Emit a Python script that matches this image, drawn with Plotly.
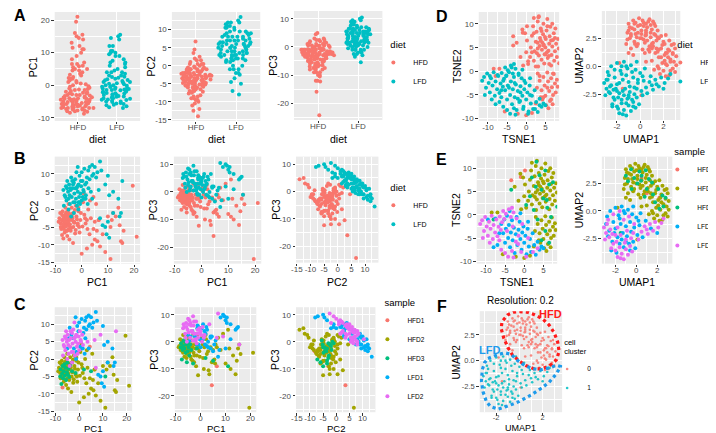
import plotly.graph_objects as go

W, H = 716, 433
FONT = "Liberation Sans, Arial, sans-serif"

# ---------------- data ----------------
# PCA rows: (PC1, PC2, PC3)     embedding rows: (TSNE1, TSNE2, UMAP1, UMAP2)

HFD1_PCA = [(-7.0, -8.2, -3.5), (4.5, 3.5, -16.0), (6.5, -3.0, -9.0)]
HFD1_EMB = [(-3.4, 7.4, 1.0, 1.6), (-0.9, 8.1, 2.2, 1.2), (0.2, 9.5, 0.5, 3.0)]

HFD2_PCA = [
    (-8.5, -2.5, -1.5), (-8.0, -4.0, -3.0), (-7.5, -1.5, 0.5), (-7.2, -3.2, -2.2), (-7.0, -5.0, -4.0),
    (-6.8, -2.0, -0.8), (-6.5, -6.5, -5.5), (-6.3, -3.8, -1.5), (-6.0, -1.0, 1.5), (-6.0, -4.5, -3.5),
    (-5.8, -2.8, -2.0), (-5.5, -7.5, -4.5), (-5.5, -0.5, 0.0), (-5.2, -3.5, -2.8), (-5.0, -5.5, -1.0),
    (-4.8, -2.2, -4.5), (-4.5, -1.5, 1.0), (-4.5, -4.2, -3.8), (-4.2, -6.0, -2.5), (-4.0, -3.0, -5.5),
    (-3.8, 0.5, -1.0), (-3.5, -2.5, -3.0), (-3.2, -5.0, -7.0), (-3.0, -1.0, 0.5), (-2.8, -3.8, -4.0),
    (-2.5, -6.8, -5.0), (-2.2, 1.0, 2.0), (-2.0, -2.0, -2.5), (-1.5, -4.5, -5.0), (-1.2, -0.5, -1.5),
    (-1.0, -5.0, -12.3), (-0.5, -3.0, -3.5), (0.0, -12.5, 5.0), (0.5, 2.0, 1.5), (1.0, -1.5, -6.0),
    (1.5, -4.0, -2.0), (2.0, -11.0, 2.5), (2.5, 0.0, -4.5), (3.0, -7.0, -3.5), (3.5, -2.5, -12.0),
    (4.0, -10.0, -2.0), (4.5, -5.5, -7.5), (5.0, -8.5, -3.0), (5.5, 1.5, -6.5), (6.0, -9.0, -1.0),
    (6.5, -3.0, -2.0), (7.0, -10.5, 1.5), (8.0, -7.0, -3.0), (9.0, -12.0, 3.0), (10.0, -2.0, -8.0),
    (11.0, -14.0, 4.5), (11.5, -3.0, -2.5), (12.0, -1.0, -10.0), (13.0, -2.0, -5.0), (14.0, 0.5, -12.0),
    (14.5, -4.5, -7.0), (15.0, -9.0, -2.5), (15.5, -9.5, -1.0), (16.0, -6.0, -4.5), (19.5, 6.7, -24.3),
    (21.0, -7.7, -4.0), (-8.8, -3.5, -2.0), (-8.2, -1.0, 1.0), (-7.8, -5.5, -1.0), (-7.3, -0.5, -3.5),
    (-7.0, -2.8, 2.5), (-6.6, -4.8, -0.5), (-6.2, 0.5, -2.5), (-5.9, -6.0, -3.0), (-5.6, -1.8, -6.0),
    (-5.3, -4.0, 2.0), (-5.0, 1.5, -0.5), (-4.7, -8.5, 0.5), (-4.3, -2.8, -1.2), (-4.0, -5.2, 0.5),
    (-3.7, -1.2, -6.5), (-3.3, -9.5, -2.0), (-3.0, -3.5, 3.0), (-2.6, -0.2, -7.5), (-2.3, -5.8, -1.0),
    (-1.8, -2.8, -9.0), (-1.3, 0.5, 2.5), (-0.8, -6.5, -2.5), (-0.3, -1.0, -5.5), (0.3, -4.8, 0.5),
    (0.8, 4.5, -1.0), (1.3, -2.5, -10.0), (2.2, -5.5, 1.0), (3.2, 2.5, -10.5), (5.8, -6.0, -8.0),
]
HFD2_EMB = [
    (0.5, 1.5, -1.2, 2.0), (1.0, 3.0, -1.1, 3.0), (1.2, 5.0, -1.0, 3.8), (1.5, 7.5, -0.9, 2.5),
    (1.8, 9.5, -0.8, 1.6), (2.0, 2.2, -0.7, 3.4), (2.2, 4.2, -0.6, 4.1), (2.5, 6.2, -0.5, 2.2),
    (2.7, 8.3, -0.4, 2.9), (3.0, 10.5, -0.3, 1.8), (3.1, 1.0, -0.2, 3.6), (3.3, 3.3, -0.1, 4.3),
    (3.5, 5.3, 0.0, 2.5), (3.6, 7.0, 0.1, 3.2), (3.8, 9.0, 0.2, 1.5), (4.0, 2.4, 0.3, 3.9),
    (4.1, 4.5, 0.4, 2.1), (4.2, 6.0, 0.5, 2.8), (4.4, 7.8, 0.6, 3.5), (4.5, 10.0, 0.7, 4.0),
    (4.7, 1.6, 0.8, 1.8), (4.8, 3.6, 0.9, 2.6), (5.0, 5.0, 1.0, 3.3), (5.1, 6.8, 1.1, 2.1),
    (5.3, 8.6, 1.2, 3.8), (5.5, 11.0, 1.3, 2.8), (5.6, 2.8, 1.4, 1.6), (5.8, 4.3, 1.5, 3.2),
    (6.0, 5.8, -1.0, 1.2), (6.1, 7.4, -0.6, 1.0), (6.3, 9.4, 0.2, 4.1), (6.5, 1.2, -0.3, 2.6),
    (6.6, 3.4, 0.6, 2.3), (6.8, 5.2, 0.0, 3.7), (7.0, 6.6, -0.8, 2.9), (7.2, 8.0, 1.1, 4.0),
    (7.3, 2.2, 0.4, 1.2), (7.5, 4.2, -0.5, 3.3), (7.8, 5.8, 0.9, 3.0), (8.0, 3.0, 0.3, 2.4),
    (8.3, 6.8, -0.2, 2.0), (8.5, 4.8, 1.3, 3.6), (0.2, 6.5, -1.1, 2.4), (0.0, 4.0, 0.7, 1.5),
    (-0.3, 8.0, 0.1, 2.9), (2.0, 11.2, -0.4, 3.9), (3.3, 11.6, 1.6, 2.5), (6.8, 10.0, 0.5, 3.8),
    (7.6, 9.0, -0.9, 3.5), (3.0, 4.8, 0.8, 4.2), (4.6, 5.6, 1.0, 0.5), (3.8, 6.4, 1.2, -0.3),
    (5.4, 4.0, 1.3, 1.2), (2.8, 3.8, 1.5, 0.0), (4.9, 7.2, 1.6, 0.8), (3.0, -0.5, 1.7, -0.7),
    (3.5, -2.0, 1.8, 1.6), (4.0, -4.0, 1.9, 0.3), (4.2, -6.0, 2.0, 2.2), (4.5, -1.2, 2.0, -0.4),
    (4.8, -3.0, 2.1, 1.0), (5.0, -5.2, 2.2, 2.8), (5.2, -7.2, 2.3, 0.1), (5.5, -0.3, 2.4, 1.5),
    (5.7, -2.2, 2.5, -0.8), (6.0, -4.2, 2.5, 2.3), (6.2, -6.3, 2.6, 0.6), (6.5, -1.5, 2.7, 1.9),
    (6.7, -3.4, 2.8, -0.2), (7.0, -5.0, 2.8, 1.1), (7.2, -0.6, 2.9, 0.4), (7.5, -2.6, 3.0, 1.6),
    (7.7, -4.5, 3.0, -0.5), (8.0, -1.8, 3.1, 0.9), (2.8, -3.5, 2.2, -0.9), (3.8, -5.5, 1.4, 2.3),
    (5.8, -7.8, 1.8, 2.7), (6.9, -7.0, 2.4, 0.8), (8.2, -3.3, 1.1, 1.8), (2.5, -6.8, 2.6, -0.4),
    (-2.5, 6.0, 1.6, -0.2), (-1.5, 3.0, 2.9, 2.0), (-1.0, 8.8, 2.1, 0.5), (-8.5, 0.5, 1.9, 1.9),
    (-7.0, 0.5, 3.1, 0.1), (-5.6, -8.5, 2.3, 1.2), (-2.2, -9.0, 1.5, 1.3), (0.0, -9.3, 0.1, -2.6),
    (1.5, -8.8, -1.8, 0.3), (-0.8, 1.2, 0.5, 0.4),
]

HFD3_PCA = [
    (-8.0, -5.0, -2.0), (-7.5, -7.2, -6.5), (-7.8, -3.0, -0.5), (-7.2, -4.2, -3.0), (-7.0, -2.0, -1.5),
    (-6.8, -5.5, 0.5), (-6.5, -3.5, -2.5), (-6.2, -1.5, 0.0), (-6.0, -4.8, -4.0), (-5.8, -2.5, -1.0),
    (-5.5, -6.0, -7.5), (-5.2, -3.8, -3.5), (-5.0, -1.0, -0.5), (-4.8, -4.5, -2.0), (-4.5, -2.8, -5.0),
    (-4.2, -5.2, -1.0), (-3.8, -1.8, -3.0), (-3.0, -3.5, -8.0), (-1.5, -4.0, -2.5), (2.0, -3.0, -6.0),
    (5.0, -3.5, -7.0), (11.0, -5.0, -9.0),
]
HFD3_EMB = [
    (3.2, 11.4, -0.5, 3.8), (-3.4, 5.4, 0.45, 2.75), (0.5, 2.1, -0.45, 2.0), (4.5, 5.4, 1.0, 2.0),
    (5.0, 3.5, 2.1, 2.0), (5.9, 3.2, 2.5, 1.4), (8.6, 1.7, 0.1, 2.5), (2.0, 8.0, 0.5, 3.2),
    (6.5, 6.5, -0.2, 3.0), (3.5, -1.0, 1.5, 2.6), (5.5, -3.5, 1.8, 0.8), (7.0, -0.5, 0.8, 1.3),
    (1.5, 4.0, -0.8, 2.7), (4.0, 8.5, 0.3, 3.6), (6.0, 1.5, 2.8, 1.2), (2.5, 1.0, 1.2, 2.9),
    (7.5, 7.0, -1.0, 3.2), (4.5, -5.5, 2.2, 0.2), (-8.0, -1.0, -1.5, -2.0), (3.0, 6.0, 0.9, 3.7),
    (5.5, 9.5, 1.6, 1.5), (6.5, -6.0, 2.6, 0.4),
]

LFD1_PCA = [
    (-5.0, 3.0, 2.5), (-4.0, 9.0, 2.0), (-2.2, 3.0, 2.0), (-0.8, 9.5, -1.0), (1.0, 3.0, 6.5),
    (2.0, 9.0, 3.0), (2.3, 1.5, 5.5), (2.6, 6.0, 4.5), (0.0, 10.5, -2.0), (2.5, 11.0, -1.5),
    (4.0, 12.5, -2.5), (5.0, 12.0, -3.5), (7.0, 13.5, -5.5), (4.5, 10.0, 2.0), (3.0, 8.5, 0.0),
    (4.0, 3.0, 2.0), (-3.3, 7.0, 4.0), (5.5, 9.0, -1.0), (-1.2, 2.0, 6.0), (-0.3, 8.0, 1.0),
    (-4.4, 6.0, 0.5), (0.4, 3.5, 5.0), (-2.4, 6.0, 3.0), (10.5, 4.0, 7.0), (1.5, 3.0, 4.0),
    (12.0, 5.0, 1.0), (-0.9, 2.0, 5.5), (14.0, 3.0, 4.5), (14.5, -2.0, 5.0), (15.0, -1.0, 5.5),
    (8.0, -4.5, 9.0), (9.0, -5.0, 10.0), (10.0, -3.5, 8.0), (12.0, -1.0, 6.5), (9.5, -7.0, 9.5),
    (10.5, -8.0, 9.0), (-1.3, 0.0, 5.0), (6.0, 10.5, 0.5), (3.0, 12.0, -2.0), (1.0, 11.5, 1.0),
    (-1.5, 12.0, -1.0), (7.5, 11.0, -3.0), (10.0, 9.5, -2.5), (4.0, 9.5, 1.5), (1.8, 7.5, -1.0),
]
LFD1_EMB = [
    (-6.0, -2.0, -2.8, -0.5), (-5.5, -4.0, -2.6, -1.8), (-5.2, -1.0, -2.5, 0.0), (-5.0, -6.0, -2.3, -2.8),
    (-4.8, -3.0, -2.2, -1.0), (-4.5, -0.2, -2.0, 0.3), (-4.2, -5.0, -2.0, -1.6), (-4.0, -2.2, -1.8, -2.4),
    (-3.7, -7.0, -1.7, -0.4), (-3.5, -3.8, -1.6, -3.0), (-3.2, -1.2, -1.5, -1.2), (-3.0, -5.5, -1.4, 0.4),
    (-2.7, -2.8, -1.3, -2.0), (-2.5, -8.2, -1.2, -3.3), (-2.2, -4.2, -1.1, -0.2), (-2.0, -0.5, -1.0, -1.4),
    (-1.8, -6.5, -0.9, -2.3), (-1.5, -3.2, -0.8, 0.1), (-1.2, -1.5, -0.7, -3.0), (-1.0, -5.2, -0.6, -1.0),
    (-0.7, -7.5, -0.5, -1.9), (-0.5, -3.8, -0.4, -0.3), (-0.2, -2.5, -0.3, -2.8), (0.0, -6.0, -0.2, -1.5),
    (0.3, -4.5, 0.0, -0.6), (0.6, -8.5, 0.1, -2.2), (0.9, -3.0, 0.3, -1.3), (1.2, -6.8, 0.4, -0.2),
    (1.5, -5.2, -2.4, -3.6), (1.8, -8.0, -1.9, -3.8), (2.2, -4.0, -1.4, -2.6), (2.6, -6.5, -2.7, -2.3),
    (3.0, -8.6, -0.1, -3.4), (3.5, -5.8, 0.6, -2.4), (4.0, -7.5, 0.9, -0.9), (4.5, -6.8, 1.4, -1.6),
    (5.0, -7.2, -1.0, -2.8), (-7.0, -6.5, -2.1, -2.0), (-6.5, -4.0, -1.6, -0.7), (-8.0, -7.0, -0.6, -3.6),
    (-7.5, -0.8, -2.9, -1.2), (-9.5, -1.0, -0.3, 0.4), (-3.8, 0.8, -1.2, 0.0), (-1.0, 0.3, 0.2, -0.9),
    (1.0, -1.5, 2.0, -2.0),
]

LFD2_PCA = [
    (-6.5, 4.0, 5.5), (-6.0, 6.5, 1.5), (-5.8, 2.5, 7.0), (-5.5, 8.0, 0.0), (-5.2, 5.0, 4.5),
    (-4.8, 7.0, 3.5), (-4.5, 1.5, 8.0), (-4.2, 5.5, 1.5), (-3.8, 3.5, 6.0), (-3.5, 6.0, 4.0),
    (-3.2, 2.0, 3.5), (-3.0, 7.5, 0.5), (-2.8, 4.5, 6.0), (-2.5, 8.5, 3.0), (-2.0, 6.0, 0.5),
    (-1.8, 1.0, 7.5), (-1.5, 5.0, 3.0), (-1.2, 7.0, 4.5), (-1.0, 3.5, 1.5), (-0.5, 4.5, 5.0),
    (-0.2, 6.5, 3.5), (0.0, 2.5, 4.0), (0.3, 8.0, 2.5), (0.6, 5.5, 0.0), (1.3, 7.0, 1.5),
    (1.6, 4.0, 2.5), (-5.0, 0.0, 8.5), (-3.0, -1.0, 9.5), (-7.0, 5.5, 5.0), (-6.8, 1.0, 6.5),
    (-4.0, -2.0, 7.0), (-2.0, 10.5, 1.0), (3.5, 5.0, 6.5), (6.5, 5.5, 1.5), (9.0, 7.0, 2.0),
    (15.5, 8.0, -1.0), (7.0, -2.5, 10.5), (-6.2, 3.5, 3.0), (-5.6, 6.0, 5.5), (-4.6, 4.0, 6.5),
    (-3.6, 8.0, 4.0), (-2.6, 2.0, 7.5), (-1.6, 6.5, -0.5), (-0.6, 1.5, 3.0), (0.8, 5.0, 5.5),
]
LFD2_EMB = [
    (-11.5, -2.0, -2.2, -3.0), (-11.0, -1.2, -2.0, -3.6), (-10.5, -3.5, -1.8, -4.2), (-10.2, -0.5, -1.6, -3.3),
    (-9.8, -2.5, -1.4, -3.9), (-9.5, -4.5, -1.2, -4.4), (-9.2, -1.5, -1.0, -3.5), (-8.8, -3.0, -0.8, -4.0),
    (-8.5, -0.2, -1.9, -2.8), (-8.2, -5.2, -0.6, -3.2), (-8.0, -2.2, -1.5, -4.3), (-7.6, -3.8, -1.1, -2.9),
    (-7.3, -1.0, -0.4, -3.7), (-7.0, -4.6, -3.1, -1.5), (-6.7, -2.6, -2.9, -2.0), (-6.4, -0.4, -2.8, -1.2),
    (-6.1, -3.3, -2.6, -2.4), (-5.8, -1.6, -2.5, -1.7), (-10.8, -5.0, -3.0, -2.6), (-9.0, -6.0, -2.7, -0.8),
    (-5.5, 0.8, -2.3, -2.1), (-4.8, 0.2, 0.5, -1.9), (-4.0, 1.2, 0.8, -1.4), (-3.5, -0.5, 1.1, -2.1),
    (-2.8, 0.5, 1.3, -1.2), (-2.0, -0.8, 1.6, -1.8), (-5.2, -0.9, 1.8, -1.0), (-3.2, 1.5, 2.1, -1.5),
    (-6.0, -7.5, 2.4, -1.1), (-5.0, -8.2, 2.6, -0.7), (-4.2, -9.0, 1.0, -1.7), (-3.2, -7.8, -2.2, -0.3),
    (-2.8, -9.2, -1.8, -1.5), (-1.6, -6.3, -1.5, -2.2), (-0.8, -8.0, -1.2, -0.8), (0.5, -9.0, -0.9, -1.8),
    (2.3, -8.0, -0.5, -2.5), (3.5, -7.2, -0.2, -1.2), (-4.5, -3.5, -2.0, -2.2), (-3.0, -2.5, -1.0, -2.6),
    (-1.5, -4.5, -0.3, -2.0), (-6.5, -5.5, 0.2, -2.6), (-2.2, -5.8, -2.4, -3.4), (-0.5, -2.0, -0.7, -0.5),
    (1.0, -5.0, -1.6, 0.0),
]

SAMPLES = ["HFD1", "HFD2", "HFD3", "LFD1", "LFD2"]
DIETS = ["HFD", "LFD"]
CLUSTERS = ["0", "1"]
SAMPLE_DIET = {"HFD1": "HFD", "HFD2": "HFD", "HFD3": "HFD", "LFD1": "LFD", "LFD2": "LFD"}
CLUSTER_OF_DIET = {"HFD": "0", "LFD": "1"}          # Seurat clusters, resolution 0.2
PCA = {"HFD1": HFD1_PCA, "HFD2": HFD2_PCA, "HFD3": HFD3_PCA, "LFD1": LFD1_PCA, "LFD2": LFD2_PCA}
EMB = {"HFD1": HFD1_EMB, "HFD2": HFD2_EMB, "HFD3": HFD3_EMB, "LFD1": LFD1_EMB, "LFD2": LFD2_EMB}
PCA_COLS = ["PC1", "PC2", "PC3"]
EMB_COLS = ["TSNE1", "TSNE2", "UMAP1", "UMAP2"]

# outlines hand-drawn on panel F (UMAP coordinates)
HFD_OUTLINE = [(0.0, 4.75), (0.7, 4.7), (1.3, 4.45), (2.0, 4.05), (2.56, 3.45), (3.0, 2.7), (3.3, 1.8),
               (3.42, 0.9), (3.2, 0.1), (2.6, -0.5), (1.9, -0.8), (1.28, -0.8), (0.6, -0.5), (0.0, -0.05),
               (-0.6, 0.55), (-1.0, 1.3), (-1.35, 2.2), (-1.57, 3.1), (-1.5, 3.8), (-1.0, 4.45), (-0.5, 4.7)]
LFD_OUTLINE = [(-2.71, 0.21), (-2.0, 0.53), (-1.28, 0.77), (-0.71, 0.62), (-0.14, 0.0), (0.43, -0.45),
               (1.14, -0.78), (1.85, -0.88), (2.56, -0.7), (3.2, -0.45), (3.56, -0.56), (3.14, -1.33),
               (2.56, -2.1), (1.85, -2.7), (1.0, -3.33), (0.0, -3.95), (-1.0, -4.4), (-1.85, -4.7),
               (-2.5, -4.45), (-2.85, -3.95), (-3.14, -3.0), (-3.28, -1.94), (-3.19, -0.86), (-3.0, -0.19)]

# ---------------- styling ----------------
DIET_COLORS = {"HFD": "#F8766D", "LFD": "#00BFC4"}
SAMPLE_COLORS = {"HFD1": "#F8766D", "HFD2": "#A3A500", "HFD3": "#00BF7D", "LFD1": "#00B0F6", "LFD2": "#E76BF3"}
CLUSTER_COLORS = {"0": "#F8766D", "1": "#00BFC4"}

RANGES = {"PC1": (-10.3, 22.3), "PC2": (-15.3, 14.9), "PC3": (-26.0, 12.8),
          "TSNE1": (-12.4, 8.6), "TSNE2": (-10.5, 12.5), "UMAP1": (-3.3, 3.45), "UMAP2": (-4.8, 4.95)}
TICKS = {"PC1": [-10, 0, 10, 20], "PC2": [-15, -10, -5, 0, 5, 10], "PC3": [-20, -10, 0, 10],
         "TSNE1": [-10, -5, 0, 5], "TSNE2": [-10, -5, 0, 5, 10], "UMAP1": [-2, 0, 2], "UMAP2": [-2.5, 0, 2.5]}


def values(samples, var):
    out = []
    for s in samples:
        if var in PCA_COLS:
            out += [row[PCA_COLS.index(var)] for row in PCA[s]]
        else:
            out += [row[EMB_COLS.index(var)] for row in EMB[s]]
    return out


def members(kind, group):
    if kind == "sample":
        return [group]
    if kind == "diet":
        return [s for s in SAMPLES if SAMPLE_DIET[s] == group]
    return [s for s in SAMPLES if CLUSTER_OF_DIET[SAMPLE_DIET[s]] == group]


GROUPS = {"diet": DIETS, "sample": SAMPLES, "cluster": CLUSTERS}
COLORS = {"diet": DIET_COLORS, "sample": SAMPLE_COLORS, "cluster": CLUSTER_COLORS}

# id, x variable, y variable, colour, pixel box (left, right, top, bottom), legend id, x-title offset
PANELS = [
    ("A1", "diet", "PC1", "diet", (42, 128, 4, 114), None, 18.5),
    ("A2", "diet", "PC2", "diet", (160, 249, 4, 114), None, 18.5),
    ("A3", "diet", "PC3", "diet", (283, 372, 3, 113), "legend", 19.5),
    ("D1", "TSNE1", "TSNE2", "diet", (469, 550, 4, 114), "legend2", 18.5),
    ("D2", "UMAP1", "UMAP2", "diet", (593, 672, 3, 113), None, 19.5),
    ("B1", "PC1", "PC2", "diet", (42, 128, 150, 258), None, 18.5),
    ("B2", "PC1", "PC3", "diet", (162, 250, 150, 258), None, 18.5),
    ("B3", "PC2", "PC3", "diet", (285, 368, 150, 257), "legend3", 19.5),
    ("E1", "TSNE1", "TSNE2", "sample", (467, 548, 150, 258), "legend4", 18.5),
    ("E2", "UMAP1", "UMAP2", "sample", (593, 664, 150, 258), None, 18.5),
    ("C1", "PC1", "PC2", "sample", (42, 120, 302, 408), None, 16.0),
    ("C2", "PC1", "PC3", "sample", (163, 245, 302, 408), None, 16.0),
    ("C3", "PC2", "PC3", "sample", (285, 365, 302, 408), "legend5", 16.0),
    ("F", "UMAP1", "UMAP2", "cluster", (470, 553, 306, 408), "legend6", 16.0),
]
RANGE_OVERRIDE = {("A1", "PC1"): (-11.0, 22.5), ("F", "UMAP1"): (-3.42, 3.68), ("F", "UMAP2"): (-5.0, 4.8)}

LEGENDS = {  # legend id: (left px, top px, title, item font size, title font size)
    "legend": (378, 28, "diet", 7, 9.5),
    "legend2": (667, 28, "diet", 7, 9.5),
    "legend3": (378, 172, "diet", 7, 9.5),
    "legend4": (664, 136, "sample", 6.5, 9.5),
    "legend5": (372, 288, "sample", 6.5, 9.5),
    "legend6": (553, 330, "cell<br>cluster", 6.5, 7.5),
}


def fmt(v, var):
    return "%.1f" % v if var == "UMAP2" else "%g" % v


def minor_vals(ticks, rng):
    step = ticks[1] - ticks[0]
    out, t = [], ticks[0] - step / 2
    while t < rng[1]:
        if t > rng[0]:
            out.append(t)
        t += step
    return out


fig = go.Figure()
layout = dict()
annotations = []

for n, (pid, xv, yv, ck, box, leg, xto) in enumerate(PANELS, start=1):
    sfx = "" if n == 1 else str(n)
    xa, ya = "x" + sfx, "y" + sfx
    msize = 2.6 if ck == "cluster" else 4
    for g in GROUPS[ck]:
        mem = members(ck, g)
        common = dict(name=g, xaxis=xa, yaxis=ya, showlegend=leg is not None,
                      legend=leg if leg else "legend",
                      marker=dict(color=COLORS[ck][g], size=msize, line=dict(width=0)))
        if xv == "diet":
            yvals = values(mem, yv)
            fig.add_trace(go.Box(x=[g] * len(yvals), y=yvals, boxpoints="all", jitter=1, pointpos=0,
                                 width=0.9, fillcolor="rgba(0,0,0,0)", line=dict(width=0, color="rgba(0,0,0,0)"),
                                 hoveron="points", **common))
        else:
            fig.add_trace(go.Scatter(x=values(mem, xv), y=values(mem, yv), mode="markers",
                                     opacity=0.85 if ck == "cluster" else 1, **common))

    l, r, t, b = box
    small = pid == "F"
    axis_base = dict(showgrid=True, gridcolor="white", gridwidth=1, zeroline=False, showline=False,
                     ticks="outside", ticklen=2.5, tickwidth=0.8, tickcolor="#333333", tickangle=0,
                     tickfont=dict(size=7.5 if small else 8, family=FONT, color="#4D4D4D"), fixedrange=True)
    xstand = -5 if small else -4
    if xv == "diet":
        xaxis = dict(axis_base, type="category", categoryorder="array", categoryarray=DIETS,
                     range=[-0.6, 1.6], domain=[l / W, r / W], anchor=ya, ticklabelstandoff=xstand)
    else:
        xr = RANGE_OVERRIDE.get((pid, xv), RANGES[xv])
        xaxis = dict(axis_base, range=list(xr), tickmode="array", tickvals=TICKS[xv],
                     ticktext=[fmt(v, xv) for v in TICKS[xv]], ticklabelstandoff=xstand,
                     minor=dict(tickmode="array", tickvals=minor_vals(TICKS[xv], xr), showgrid=True,
                                gridcolor="white", gridwidth=0.5, ticks=""),
                     domain=[l / W, r / W], anchor=ya)
    yr = RANGE_OVERRIDE.get((pid, yv), RANGES[yv])
    yaxis = dict(axis_base, range=list(yr), tickmode="array", tickvals=TICKS[yv],
                 ticktext=[fmt(v, yv) for v in TICKS[yv]],
                 minor=dict(tickmode="array", tickvals=minor_vals(TICKS[yv], yr), showgrid=True,
                            gridcolor="white", gridwidth=0.5, ticks=""),
                 domain=[1 - b / H, 1 - t / H], anchor=xa)
    layout["xaxis" + sfx] = xaxis
    layout["yaxis" + sfx] = yaxis
    # axis titles, placed where ggplot places them
    tsize = 9 if small else (9.5 if b > 400 else 10.5)
    annotations.append(dict(text=xv, x=(l + r) / 2 / W, y=1 - (b + xto) / H, xref="paper", yref="paper",
                            showarrow=False, font=dict(size=tsize, family=FONT, color="black"),
                            xanchor="center", yanchor="middle", borderpad=0))
    yoff = 23 if yv == "UMAP2" else 21
    annotations.append(dict(text=yv, x=(l - yoff) / W, y=1 - (t + b) / 2 / H, xref="paper", yref="paper",
                            showarrow=False, font=dict(size=10 if small else 10.5, family=FONT, color="black"),
                            textangle=-90, xanchor="center", yanchor="middle", borderpad=0))

F_AX = "x%d" % len(PANELS)
F_AY = "y%d" % len(PANELS)


def path(points):
    return "M " + " L ".join("%g,%g" % p for p in points) + " Z"


shapes = [
    dict(type="path", path=path(HFD_OUTLINE), xref=F_AX, yref=F_AY,
         line=dict(color="#FF1A1A", width=3.2, dash="dot"), layer="above"),
    dict(type="path", path=path(LFD_OUTLINE), xref=F_AX, yref=F_AY,
         line=dict(color="#1E9BEB", width=3.2, dash="dot"), layer="above"),
]

for letter, (px, py) in {"A": (7, 8), "B": (7, 152), "C": (7, 299),
                         "D": (432, 9), "E": (432, 153), "F": (432, 301)}.items():
    annotations.append(dict(text="<b>%s</b>" % letter, x=px / W, y=1 - py / H, xref="paper", yref="paper",
                            showarrow=False, font=dict(size=16, family=FONT, color="black"),
                            xanchor="center", yanchor="middle"))
annotations.append(dict(text="Resolution: 0.2", x=511 / W, y=1 - 295 / H, xref="paper", yref="paper",
                        showarrow=False, font=dict(size=10, family=FONT, color="black"),
                        xanchor="center", yanchor="middle"))
annotations.append(dict(text="<b>HFD</b>", x=2.65, y=4.5, xref=F_AX, yref=F_AY, showarrow=False,
                        font=dict(size=11, family=FONT, color="#FF1A1A")))
annotations.append(dict(text="<b>LFD</b>", x=-2.56, y=1.0, xref=F_AX, yref=F_AY, showarrow=False,
                        font=dict(size=11, family=FONT, color="#1E9BEB")))

for lid, (lx, ly, ltitle, lfs, tfs) in LEGENDS.items():
    layout[lid] = dict(x=lx / W, xanchor="left", y=1 - ly / H, yanchor="top", bgcolor="rgba(0,0,0,0)",
                       borderwidth=0, itemsizing="trace", indentation=-15,
                       font=dict(size=lfs, family=FONT, color="black"),
                       title=dict(text=ltitle, font=dict(size=tfs, family=FONT, color="black")))

fig.update_layout(width=W, height=H, margin=dict(l=0, r=0, t=0, b=0), plot_bgcolor="#EBEBEB",
                  paper_bgcolor="white", font=dict(family=FONT), shapes=shapes,
                  annotations=annotations, boxmode="overlay", **layout)

fig.write_html("out.html")
